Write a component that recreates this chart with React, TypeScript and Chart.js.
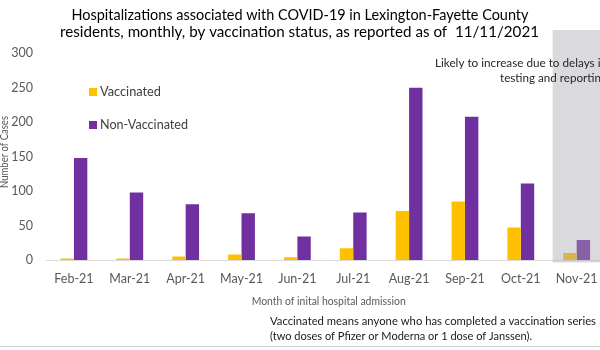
import React, { useEffect, useRef } from "react";
import { Chart, registerables } from "chart.js";

Chart.register(...registerables);

const categories = ["Feb-21", "Mar-21", "Apr-21", "May-21", "Jun-21", "Jul-21", "Aug-21", "Sep-21", "Oct-21", "Nov-21"];
const vaccinated = [2, 2, 5, 8, 4, 17, 71, 85, 47, 10];
const nonVaccinated = [148, 98, 81, 68, 34, 69, 250, 208, 111, 29];
const yTicks = [0, 50, 100, 150, 200, 250, 300];

const titleLines = [
  "Hospitalizations associated with COVID-19 in Lexington-Fayette County",
  "residents, monthly, by vaccination status, as reported as of  11/11/2021",
];
const noteLines = ["Likely to increase due to delays in", "testing and reporting"];
const footLines = [
  "Vaccinated means anyone who has completed a vaccination series",
  "(two doses of Pfizer or Moderna or 1 dose of Janssen).",
];
const xTitle = "Month of inital hospital admission";
const yTitle = "Number of Cases";
const seriesNames = ["Vaccinated", "Non-Vaccinated"];
const colors = ["#FFC000", "#7030A0"];

const FONT = "Lato, 'Noto Sans', sans-serif";

function fitText(ctx: CanvasRenderingContext2D, text: string, x: number, y: number, w: number, align: "left" | "center" | "right") {
  const m = ctx.measureText(text).width;
  const sx = w / m;
  ctx.save();
  ctx.translate(x, y);
  ctx.scale(sx, 1);
  ctx.textAlign = align;
  ctx.fillText(text, 0, 0);
  ctx.restore();
}

const decor = {
  id: "decor",
  afterDatasetsDraw(chart: any) {
    const ctx: CanvasRenderingContext2D = chart.ctx;
    const xs = chart.scales.x;
    const ys = chart.scales.y;
    // shaded partial-month region
    const half = xs.getPixelForValue(1) - xs.getPixelForValue(0);
    const gx = xs.getPixelForValue(categories.length - 1) - half * 0.43;
    ctx.save();
    ctx.fillStyle = "rgba(168,168,176,0.42)";
    ctx.fillRect(gx, 30, 700, ys.getPixelForValue(0) + 2.5 - 30);
    ctx.restore();
  },
  afterDraw(chart: any) {
    const ctx: CanvasRenderingContext2D = chart.ctx;
    ctx.save();
    ctx.textBaseline = "middle";
    // title
    ctx.fillStyle = "#000000";
    ctx.font = `15px ${FONT}`;
    fitText(ctx, titleLines[0], 300, 15, 457, "center");
    fitText(ctx, titleLines[1], 299.5, 32, 479, "center");
    // annotation
    ctx.fillStyle = "#262626";
    ctx.font = `12px ${FONT}`;
    fitText(ctx, noteLines[0], 607, 63, 172, "right");
    fitText(ctx, noteLines[1], 607, 78, 107, "right");
    // legend
    ctx.font = `12.5px ${FONT}`;
    const ly = [92, 125];
    for (let i = 0; i < 2; i++) {
      ctx.fillStyle = colors[i];
      ctx.fillRect(89, ly[i] - 4, 8, 8);
      ctx.fillStyle = "#404040";
      ctx.textAlign = "left";
      const w = i === 0 ? 61 : 88;
      fitText(ctx, seriesNames[i], 100, ly[i], w, "left");
    }
    // axis titles
    ctx.fillStyle = "#595959";
    ctx.font = `11px ${FONT}`;
    fitText(ctx, xTitle, 328.7, 301, 154, "center");
    ctx.save();
    ctx.translate(5, 152);
    ctx.rotate(-Math.PI / 2);
    ctx.font = `10.5px ${FONT}`;
    fitText(ctx, yTitle, 0, 0, 72, "center");
    ctx.restore();
    // footnote
    ctx.fillStyle = "#1a1a1a";
    ctx.font = `11px ${FONT}`;
    fitText(ctx, footLines[0], 270, 321, 326, "left");
    fitText(ctx, footLines[1], 270, 336, 262, "left");
    // bottom border line
    ctx.strokeStyle = "#D0D0D0";
    ctx.lineWidth = 1;
    ctx.beginPath();
    ctx.moveTo(0, 346.5);
    ctx.lineTo(620, 346.5);
    ctx.stroke();
    ctx.restore();
  },
};

export default function App() {
  const ref = useRef<HTMLCanvasElement>(null);
  useEffect(() => {
    if (!ref.current) return;
    const chart = new Chart(ref.current, {
      type: "bar",
      data: {
        labels: categories,
        datasets: [
          { label: seriesNames[0], data: vaccinated, backgroundColor: colors[0], categoryPercentage: 0.48, barPercentage: 1.0 },
          { label: seriesNames[1], data: nonVaccinated, backgroundColor: colors[1], categoryPercentage: 0.48, barPercentage: 1.0 },
        ],
      },
      options: {
        responsive: false,
        animation: false,
        devicePixelRatio: 1,
        layout: { padding: { left: 0, right: 15.4, top: 53.3, bottom: 0 } },
        plugins: { legend: { display: false }, tooltip: { enabled: false }, title: { display: false } },
        scales: {
          x: {
            grid: { display: false, drawTicks: false },
            border: { display: true, color: "#D9D9D9", width: 1 },
            ticks: { color: "#595959", font: { family: FONT, size: 12.5 }, padding: 11, maxRotation: 0, autoSkip: false },
            afterFit: (s: any) => { s.height = 90; },
          },
          y: {
            min: 0,
            max: 300,
            afterBuildTicks: (s: any) => { s.ticks = yTicks.map((v) => ({ value: v })); },
            grid: { display: false, drawTicks: false },
            border: { display: false },
            ticks: { color: "#595959", font: { family: FONT, size: 12.5 }, padding: 13 },
            afterFit: (s: any) => { s.width = 46; },
          },
        },
      },
      plugins: [decor],
    });
    return () => chart.destroy();
  }, []);
  return (
    <div style={{ position: "fixed", left: 0, top: 0, width: 600, height: 350, overflow: "hidden", background: "#fff" }}>
      <canvas ref={ref} width={620} height={350} style={{ display: "block" }} />
    </div>
  );
}
